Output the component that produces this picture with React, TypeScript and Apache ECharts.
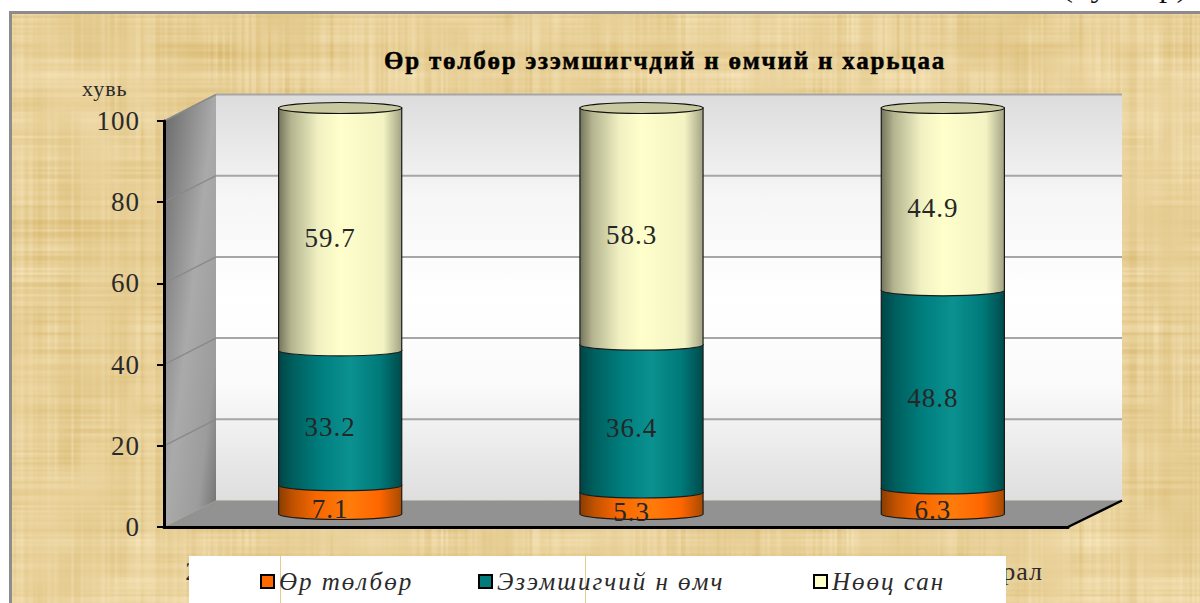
import React, { useEffect, useRef } from "react";
import * as echarts from "echarts";

const categories = ["2006 оны IV-р улирал", "2007 оны I-р улирал", "2007 оны II-р улирал"];
const orTolbor = [7.1, 5.3, 6.3];
const ezemshigch = [33.2, 36.4, 48.8];
const noots = [59.7, 58.3, 44.9];
const yTicks = [0, 20, 40, 60, 80, 100];
const seriesNames = ["Өр төлбөр", "Эзэмшигчий н өмч", "Нөөц сан"];
const titleText = "Өр төлбөр эзэмшигчдий н өмчий н харьцаа";

const FONT = "'Liberation Serif', serif";
const DEPTH_X = 52;
const DEPTH_X_RIGHT = 54;
const DEPTH_Y = 26.5;
const CYL_DX = 25.5;
const CYL_DY = 13;
const RY = 5.5;

const grad = (stops: [number, string][], x2 = 1, y2 = 0) =>
  new echarts.graphic.LinearGradient(0, 0, x2, y2, stops.map(([offset, color]) => ({ offset, color })));

const swatches = ["#ff6a00", "#007c7c", "#ffffcc"];
const bodyStops: [number, string][][] = [
  [[0, "#8a3d00"], [0.12, "#c25200"], [0.3, "#f56600"], [0.58, "#ff7c0c"], [0.82, "#ff6600"], [1, "#a84a00"]],
  [[0, "#004545"], [0.12, "#005f5f"], [0.35, "#007f7f"], [0.58, "#0b9190"], [0.82, "#007a7a"], [1, "#004a4a"]],
  [[0, "#74745c"], [0.1, "#b3b38f"], [0.32, "#f0f0c2"], [0.5, "#ffffcc"], [0.85, "#f3f3c3"], [1, "#a3a384"]],
];

// Parchment texture: fixed hash, only decorates the page background.
const hash = (n: number) => {
  const s = Math.sin(n * 12.9898) * 43758.5453;
  return s - Math.floor(s);
};
const smooth = (x: number, seed: number) => {
  const i = Math.floor(x);
  const f = x - i;
  const t = f * f * (3 - 2 * f);
  return hash(i + seed) * (1 - t) + hash(i + 1 + seed) * t;
};
const cell = (x: number, y: number, seed: number) => {
  const xi = Math.floor(x);
  const yi = Math.floor(y);
  const fx = x - xi;
  const fy = y - yi;
  const tx = fx * fx * (3 - 2 * fx);
  const ty = fy * fy * (3 - 2 * fy);
  const h = (a: number, b: number) => hash(a * 57.31 + b * 131.7 + seed);
  const top = h(xi, yi) * (1 - tx) + h(xi + 1, yi) * tx;
  const bot = h(xi, yi + 1) * (1 - tx) + h(xi + 1, yi + 1) * tx;
  return top * (1 - ty) + bot * ty;
};
const makeParchment = (w: number, h: number) => {
  const canvas = document.createElement("canvas");
  canvas.width = w;
  canvas.height = h;
  const ctx = canvas.getContext("2d")!;
  const img = ctx.createImageData(w, h);
  for (let y = 0; y < h; y++) {
    const rowA = smooth(y / 2.4, 11) - 0.5;
    const rowB = smooth(y / 8, 23) - 0.5;
    for (let x = 0; x < w; x++) {
      const colA = smooth(x / 2.4, 37) - 0.5;
      const colB = smooth(x / 8, 51) - 0.5;
      const low = cell(x / 90, y / 70, 3) - 0.5;
      const mid = cell(x / 26, y / 22, 7) - 0.5;
      const pRow = cell(x / 40, y / 26, 13);
      const pCol = cell(x / 26, y / 40, 17);
      const v = 14 * low + 10 * mid + (rowA * 26 + rowB * 12) * pRow + (colA * 26 + colB * 12) * pCol;
      const k = 4 * (y * w + x);
      img.data[k] = 232 + v * 0.55;
      img.data[k + 1] = 208 + v * 0.8;
      img.data[k + 2] = 152 + v * 1.35;
      img.data[k + 3] = 255;
    }
  }
  ctx.putImageData(img, 0, 0);
  return canvas.toDataURL();
};

const cylinder = (seriesIndex: number, showTop: boolean) => (params: any, api: any) => {
  const cat = api.value(0);
  const base = api.value(1);
  const top = api.value(2);
  const p0 = api.coord([cat, base]);
  const p1 = api.coord([cat, top]);
  const rx = api.size([1, 0])[0] * 0.2043;
  const cx = p0[0] + CYL_DX;
  const y0 = p0[1] - CYL_DY;
  const y1 = p1[1] - CYL_DY;
  const k = 0.5523;
  const d =
    `M${cx - rx} ${y1} L${cx + rx} ${y1} L${cx + rx} ${y0} ` +
    `C${cx + rx} ${y0 + RY * k} ${cx + rx * k} ${y0 + RY} ${cx} ${y0 + RY} ` +
    `C${cx - rx * k} ${y0 + RY} ${cx - rx} ${y0 + RY * k} ${cx - rx} ${y0} Z`;
  const children: any[] = [
    {
      type: "path",
      shape: { pathData: d, layout: "center", x: cx - rx, y: y1, width: 2 * rx, height: y0 + RY - y1 },
      style: { fill: grad(bodyStops[seriesIndex]), stroke: "#1a1a1a", lineWidth: 1.2 },
    },
  ];
  if (showTop) {
    children.push({
      type: "ellipse",
      shape: { cx, cy: y1, rx, ry: RY },
      style: { fill: "#c9c9a1", stroke: "#111", lineWidth: 1.2 },
    });
  }
  children.push({
    type: "text",
    x: p0[0] + 15.5,
    y: (y0 + y1) / 2 + 9,
    style: {
      text: String(api.value(3)),
      fill: "#262626",
      font: `27px ${FONT}`,
      align: "center",
      verticalAlign: "middle",
    },
  });
  return { type: "group", children };
};

const App = () => {
  const ref = useRef<HTMLDivElement>(null);
  const frameRef = useRef<HTMLDivElement>(null);
  useEffect(() => {
    frameRef.current!.style.backgroundImage = `url(${makeParchment(1200, 603)})`;
    const chart = echarts.init(ref.current!, undefined, { renderer: "svg" });
    const valueLists = [orTolbor, ezemshigch, noots];
    const stacked = valueLists.map((vals, s) =>
      vals.map((v, i) => {
        const base = valueLists.slice(0, s).reduce((sum, l) => sum + l[i], 0);
        return [i, base, base + v, v];
      })
    );
    const legendLefts = [260, 478, 813];
    chart.setOption({
      animation: false,
      backgroundColor: "transparent",
      title: {
        text: titleText,
        left: 660,
        top: 43,
        textAlign: "center",
        textStyle: {
          fontFamily: FONT,
          fontSize: 25,
          fontWeight: "bold",
          color: "#000",
          textBorderColor: "#000",
          textBorderWidth: 0.5,
        },
      },
      grid: { left: 164, top: 121, width: 904, height: 406 },
      xAxis: {
        type: "category",
        data: categories,
        z: 5,
        axisLine: { lineStyle: { color: "#000", width: 3 } },
        axisTick: { alignWithLabel: false, length: 8, lineStyle: { color: "#000", width: 2 } },
        axisLabel: { margin: 31, fontFamily: FONT, fontSize: 26, color: "#2a2a2a", interval: 0 },
        splitLine: { show: false },
      },
      yAxis: {
        type: "value",
        min: 0,
        max: 100,
        interval: 20,
        z: 5,
        axisLine: { show: true, lineStyle: { color: "#000", width: 3 } },
        axisTick: { show: true, length: 7, lineStyle: { color: "#000", width: 2 } },
        axisLabel: { margin: 24, fontFamily: FONT, fontSize: 27, color: "#2a2a2a", padding: [8, 0, 0, 0] },
        splitLine: { show: false },
      },
      legend: seriesNames.map((name, i) => ({
        data: [{ name, icon: "rect", itemStyle: { color: swatches[i], borderColor: "#000", borderWidth: 2 } }],
        left: legendLefts[i],
        top: 569,
        z: 20,
        padding: 0,
        itemWidth: 13,
        itemHeight: 13,
        selectedMode: false,
        textStyle: { fontFamily: FONT, fontSize: 25, fontStyle: "italic", color: "#2a2a2a", padding: [9, 0, 0, 0] },
      })),
      graphic: [
        { type: "rect", z: 15, shape: { x: 189, y: 556, width: 817, height: 47 }, style: { fill: "#fff" } },
        { type: "line", z: 16, shape: { x1: 280.5, y1: 556, x2: 280.5, y2: 603 }, style: { stroke: "#e6cc94", lineWidth: 1 } },
        { type: "line", z: 16, shape: { x1: 585.5, y1: 556, x2: 585.5, y2: 603 }, style: { stroke: "#e6cc94", lineWidth: 1 } },
        {
          type: "text",
          z: 16,
          x: 82,
          y: 77,
          style: { text: "хувь", fill: "#2a2a2a", font: `22px ${FONT}` },
        },
        {
          type: "text",
          z: 16,
          x: 1062,
          scaleX: 1.17,
          y: -26,
          style: { text: "(хувиар)", fill: "#111", font: `28px ${FONT}` },
        },
      ],
      series: [
        {
          type: "custom",
          name: "walls",
          coordinateSystem: "cartesian2d",
          silent: true,
          clip: false,
          z: 1,
          data: [[0, 0]],
          renderItem: (params: any) => {
            const { x, y, width: w, height: h } = params.coordSys;
            const b = y + h;
            const r = x + w;
            return {
              type: "group",
              children: [
                {
                  type: "rect",
                  shape: { x: x + DEPTH_X, y: y - DEPTH_Y, width: w + DEPTH_X_RIGHT - DEPTH_X, height: h },
                  style: { fill: grad([[0, "#dcdcdc"], [0.25, "#f6f6f6"], [0.5, "#ffffff"], [0.72, "#fafafa"], [1, "#dedede"]], 0, 1) },
                },
                {
                  type: "polygon",
                  shape: { points: [[x, y], [x + DEPTH_X, y - DEPTH_Y], [x + DEPTH_X, b - DEPTH_Y], [x, b]] },
                  style: { fill: grad([[0, "#686868"], [0.5, "#aaaaaa"], [0.8, "#9c9c9c"], [1, "#707070"]], 1, 1) },
                },
                {
                  type: "polygon",
                  shape: { points: [[x, b], [x + DEPTH_X, b - DEPTH_Y], [r + DEPTH_X_RIGHT, b - DEPTH_Y], [r, b]] },
                  style: { fill: "#929292" },
                },
                {
                  type: "line",
                  shape: { x1: r, y1: b, x2: r + DEPTH_X_RIGHT, y2: b - DEPTH_Y },
                  style: { stroke: "#000", lineWidth: 2.5 },
                },
              ],
            };
          },
        },
        {
          type: "custom",
          name: "gridlines",
          coordinateSystem: "cartesian2d",
          silent: true,
          clip: false,
          z: 1,
          data: yTicks.slice(1).map((t) => [0, t]),
          renderItem: (params: any, api: any) => {
            const { x, width: w } = params.coordSys;
            const py = api.coord([0, api.value(1)])[1];
            return {
              type: "group",
              children: [
                {
                  type: "line",
                  shape: { x1: x + DEPTH_X, y1: py - DEPTH_Y, x2: x + w + DEPTH_X_RIGHT, y2: py - DEPTH_Y },
                  style: { stroke: "#a6a6a6", lineWidth: 2 },
                },
                {
                  type: "line",
                  shape: { x1: x, y1: py, x2: x + DEPTH_X, y2: py - DEPTH_Y },
                  style: { stroke: "#8a8a8a", lineWidth: 1.5 },
                },
              ],
            };
          },
        },
        ...seriesNames.map((name, s) => ({
          type: "custom",
          name,
          coordinateSystem: "cartesian2d",
          clip: false,
          z: 3 + s,
          itemStyle: { color: swatches[s] },
          data: stacked[s],
          renderItem: cylinder(s, s === seriesNames.length - 1),
        })),
      ],
    });
    return () => chart.dispose();
  }, []);

  return (
    <div style={{ position: "fixed", left: 0, top: 0, width: 1200, height: 603, background: "#fff", overflow: "hidden" }}>
      <style>{`
        .chart-host text { letter-spacing: 1px; }
        .chart-host text[style*="italic"] { letter-spacing: 2px; }
        .chart-host text[style*="bold"] { letter-spacing: 1.8px; }
      `}</style>
      <div
        ref={frameRef}
        style={{
          position: "absolute",
          left: 9,
          top: 11,
          width: 1220,
          height: 620,
          boxSizing: "border-box",
          border: "3px solid #8c8c8c",
          backgroundColor: "#e8d09a",
        }}
      />
      <div ref={ref} className="chart-host" style={{ position: "absolute", left: 0, top: 0, width: 1200, height: 603 }} />
    </div>
  );
};

export default App;
